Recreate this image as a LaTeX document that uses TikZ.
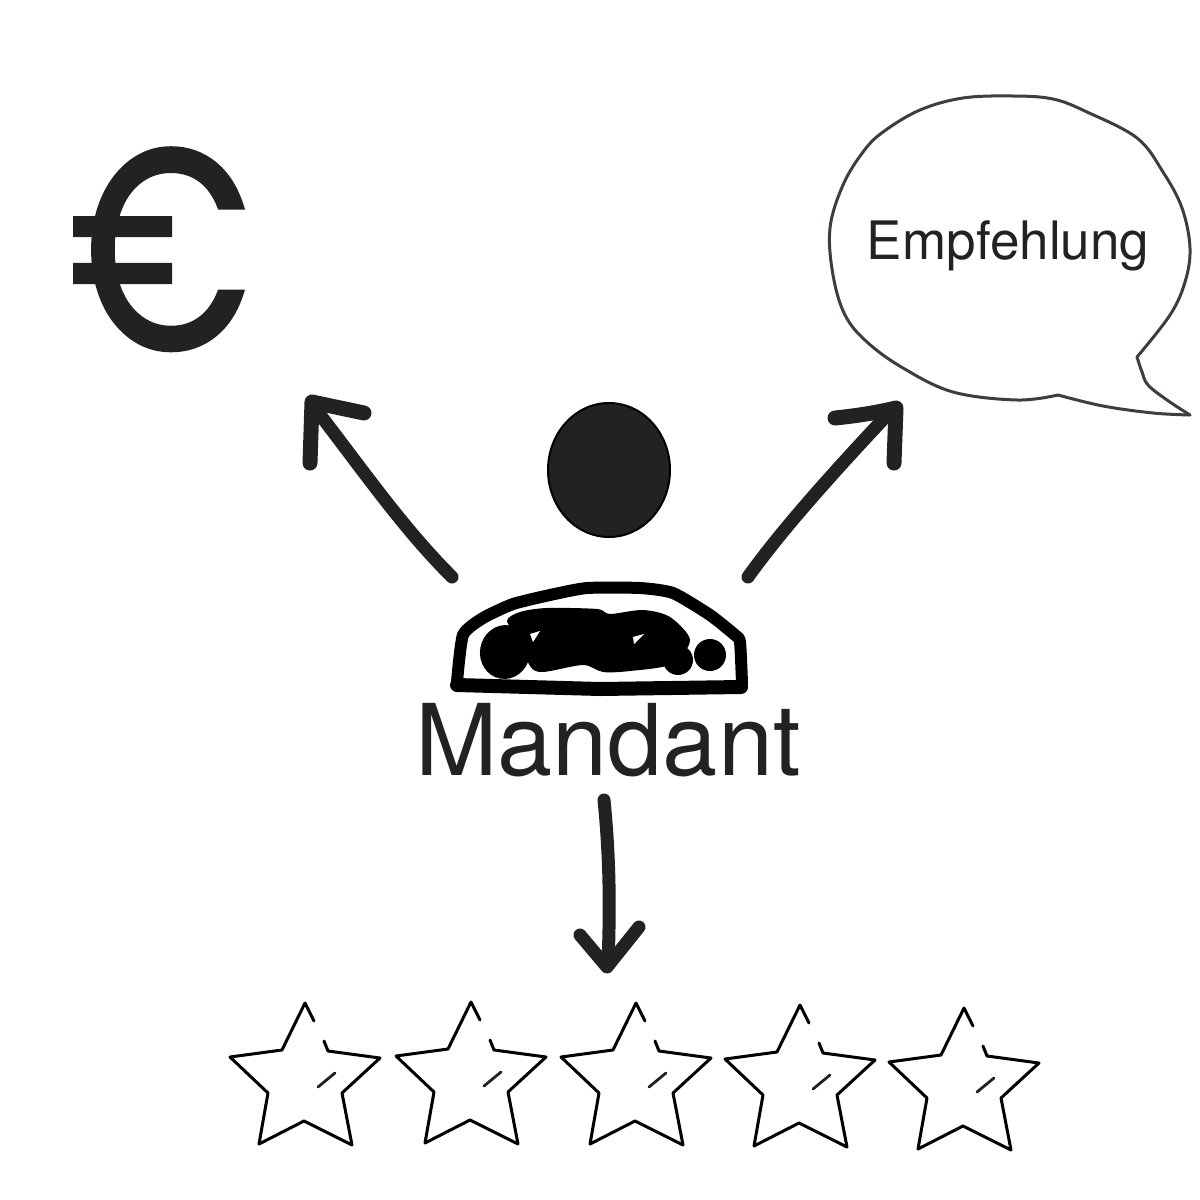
\documentclass[tikz,border=0pt]{standalone}
\usepackage{fontspec}
\usetikzlibrary{shapes.geometric}
\setmainfont{TeX Gyre Heros}
\newfontfamily\eurofont[FakeBold=1.1]{Poppins}
\definecolor{ink}{HTML}{222222}
\definecolor{bubbleline}{HTML}{3A3F44}
\tikzset{
  arrowshaft/.style={draw=ink,line width=13pt,line cap=round,line join=round},
  arrowhead/.style={draw=ink,line width=15pt,line cap=round,line join=round},
  bubbleedge/.style={draw=bubbleline,line width=3pt,line join=round,line cap=round},
  bodyline/.style={draw=black,line width=12pt,line cap=round,line join=round},
  bodybase/.style={draw=black,line width=14pt,line cap=round,line join=round},
  starline/.style={draw=black,line width=3pt,line join=round,line cap=round},
  starglint/.style={draw=ink,line width=2.8pt,line cap=round},
  label/.style={inner sep=0pt,text=ink,anchor=base},
  pics/ratingstar/.style={code={
    \draw[starline] (9,18) -- (0,0) -- (-23,47) -- (-75,54) -- (-37,90) -- (-46,141) -- (-1,118) -- (47,142) -- (37,90) -- (75,55) -- (23,48) -- (19,38);
    \draw[starglint] (13,84) -- (30,70);
  }}
}
\begin{document}
\begin{tikzpicture}[x=1pt,y=-1pt]
\useasboundingbox (0,0) rectangle (1200,1200);
\fill[white] (0,0) rectangle (1200,1200);
% euro
\node[label,font={\eurofont\fontsize{285}{285}\selectfont},xscale=0.79] (euro) at (160,349) {€};
% speech bubble
\draw[bubbleedge] plot[smooth,tension=.6] coordinates {(1137,357) (1170,315) (1185,282) (1190,248) (1182,208) (1163,172) (1137,138) (1087,112) (1053,99) (1013,96) (963,98) (920,110) (883,132) (863,152) (843,185) (830,228) (833,275) (845,315) (867,342) (903,368) (953,392) (1017,400) (1058,395)};
\draw[bubbleedge] plot[smooth,tension=.6] coordinates {(1058,395) (1103,406) (1153,413) (1190,415)};
\draw[bubbleedge] plot[smooth,tension=.6] coordinates {(1190,415) (1167,400) (1148,385) (1142,372) (1137,357)};
\node[label,font=\fontsize{53}{53}\selectfont] (empf) at (1008,259) {Empfehlung};
% person
\node[draw=black,fill=ink,ellipse,line width=2pt,minimum width=122pt,minimum height=134pt,inner sep=0pt] (head) at (609,470) {};
\draw[bodyline] plot[smooth,tension=.35] coordinates {(457,682) (463,635) (483,618) (513,604) (550,595) (587,588) (640,588) (673,593) (710,615) (735,635) (740,642) (742,683)};
\draw[bodybase] (457,685) -- (600,689) -- (741,687);
\fill[black,rotate around={-10:(505,652)}] (505,652) ellipse [x radius=25,y radius=27];
\fill[black] plot[smooth cycle,tension=.5] coordinates {(507,621) (520,612) (547,608) (597,609) (610,614) (643,610) (670,617) (690,640) (672,664) (630,671) (603,672) (583,665) (543,672) (530,666) (520,640)};
\fill[black] (678,660) circle [radius=15];
\fill[black] (710,655) circle [radius=16];
\fill[white] (533,642) -- (540,631) -- (530,634) -- cycle;
\fill[white] (634,644) -- (644,634) -- (633,637) -- cycle;
\node[label,font=\fontsize{99}{99}\selectfont] (mandant) at (608,775) {Mandant};
% arrows
\coordinate (la) at (452,577); \coordinate (lb) at (318,412);
\coordinate (lt) at (312,402);
\coordinate (l1) at (310,463); \coordinate (l2) at (364,413);
\coordinate (ra) at (748,577); \coordinate (rb) at (890,412);
\coordinate (rt) at (896,408);
\coordinate (r1) at (835,418); \coordinate (r2) at (894,463);
\coordinate (da) at (604,800); \coordinate (db) at (608,965);
\coordinate (d1) at (580,935); \coordinate (d2) at (639,927);
\draw[arrowshaft] (la) .. controls (405,530) and (370,480) .. (lb);
\draw[arrowhead] (l1) -- (lt) -- (l2);
\draw[arrowshaft] (ra) .. controls (785,525) and (845,460) .. (rb);
\draw[arrowhead] (r1) .. controls (855,416) and (875,413) .. (rt) -- (r2);
\draw[arrowshaft] (da) .. controls (610,860) and (610,910) .. (db);
\draw[arrowshaft] (d1) -- (607,967) -- (d2);
% stars
\pic at (305,1003) {ratingstar};
\pic at (471,1002) {ratingstar};
\pic at (636,1003) {ratingstar};
\pic at (800,1005) {ratingstar};
\pic at (964,1008) {ratingstar};
\end{tikzpicture}
\end{document}
